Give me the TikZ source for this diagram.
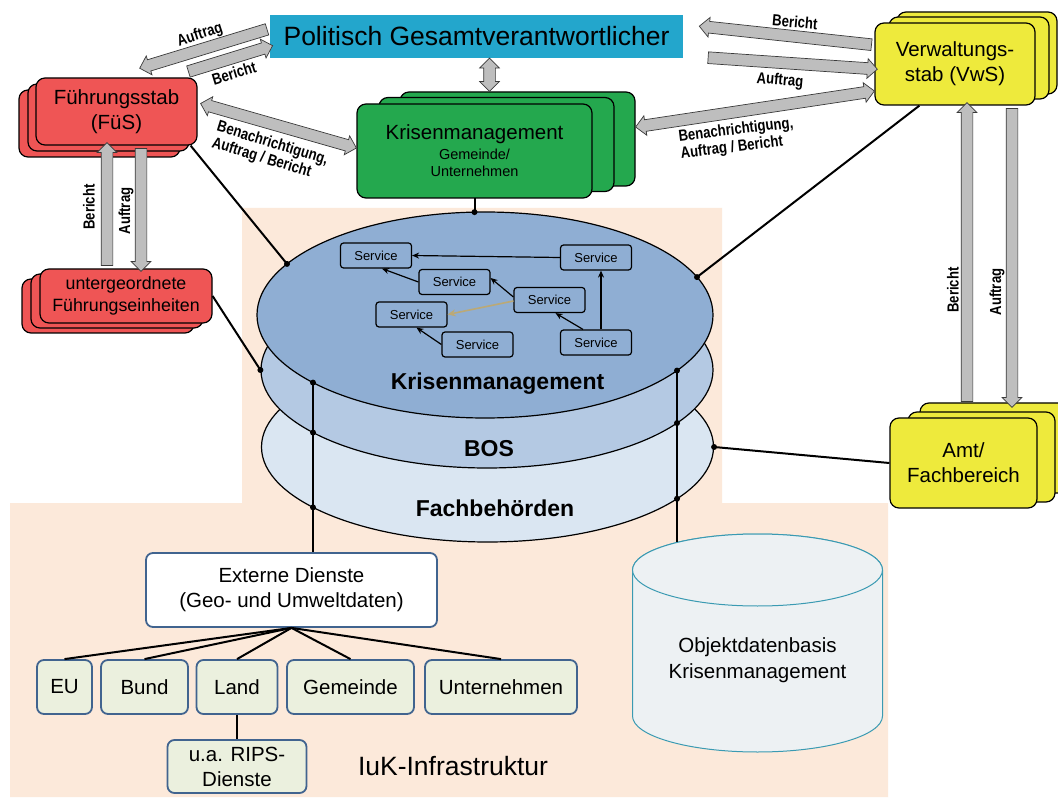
\documentclass[tikz,border=0pt]{standalone}
\usepackage{fontspec}
\setmainfont{Liberation Sans}
\newfontfamily\narrowfont[FakeStretch=0.82]{Liberation Sans}
\usetikzlibrary{shapes.arrows,shapes.geometric,arrows.meta,calc}

\definecolor{peach}{HTML}{FCE9DA}
\definecolor{polcyan}{HTML}{23A6CC}
\definecolor{fusred}{HTML}{EF5555}
\definecolor{kmgreen}{HTML}{24A84E}
\definecolor{vwsyellow}{HTML}{EEEA3C}
\definecolor{kmcol}{HTML}{8FAED3}
\definecolor{boscol}{HTML}{B4C9E3}
\definecolor{fachcol}{HTML}{DAE6F2}
\definecolor{arrowgray}{HTML}{BEBEBE}
\definecolor{arrowline}{HTML}{3A3A3A}
\definecolor{tanline}{HTML}{BBA976}
\definecolor{extline}{HTML}{41648F}
\definecolor{extfill}{HTML}{EBF0DE}
\definecolor{cylfill}{HTML}{EDF1F3}
\definecolor{cylline}{HTML}{3A9AB2}

\newcommand\fs[2]{\fontsize{#1}{#2}\selectfont}

% vertical distance from an ellipse centre to its border at horizontal offset #1
\pgfmathdeclarefunction{ellofs}{3}{%
  \begingroup
    \pgfmathparse{#3*sqrt(1-(#1/#2)*(#1/#2))}%
    \pgfmathsmuggle\pgfmathresult
  \endgroup}

% grey block arrows between two named points
\newcommand\blockarrow[3]{%
  \path let \p1=(#2), \p2=(#3),
    \n1={atan2(\y2-\y1,\x2-\x1)}, \n2={veclen(\x2-\x1,\y2-\y1)} in
    node[#1, minimum height=\n2, rotate=\n1] at ($(\p1)!0.5!(\p2)$) {};}

\tikzset{
  stackbox/.style={draw=black, line width=1.2pt, rounded corners=9pt, align=center, inner sep=2pt},
  fusbox/.style={stackbox, fill=fusred, minimum width=161pt, minimum height=67pt},
  ufebox/.style={stackbox, fill=fusred, minimum width=172pt, minimum height=54pt},
  kmbox/.style={stackbox, fill=kmgreen, minimum width=235pt, minimum height=94pt},
  vwsbox/.style={stackbox, fill=vwsyellow, minimum width=160pt, minimum height=82pt},
  amtbox/.style={stackbox, fill=vwsyellow, minimum width=147pt, minimum height=90pt},
  onearrow/.style={single arrow, draw=arrowline, line width=0.7pt, fill=arrowgray,
    inner sep=0pt, inner ysep=5.5pt, single arrow head extend=4pt, minimum width=0pt},
  twoarrow/.style={double arrow, draw=arrowline, line width=0.7pt, fill=arrowgray,
    inner sep=0pt, inner ysep=5.5pt, double arrow head extend=4pt, minimum width=0pt},
  arrlabel/.style={font=\narrowfont\bfseries\fs{16}{17}, align=left, inner sep=0pt},
  layer/.style={ellipse, draw=black, line width=1.2pt, inner sep=0pt},
  layerlabel/.style={font=\bfseries\fs{23}{27}, inner sep=0pt},
  service/.style={draw=black, line width=1.2pt, rounded corners=3pt, fill=kmcol,
    minimum width=71pt, minimum height=25pt, inner sep=0pt, font=\fs{13}{15}},
  svcarrow/.style={line width=1.2pt, -{Stealth[length=7pt,width=6pt]}},
  conn/.style={line width=2pt, draw=black},
  extbox/.style={draw=extline, line width=1.8pt, rounded corners=7pt, fill=extfill,
    align=center, inner sep=0pt, minimum height=54pt, font=\fs{20.5}{25}},
  cyl/.style={draw=cylline, line width=1pt, fill=cylfill},
}

\begin{document}
\begin{tikzpicture}[x=1pt,y=-1pt]
\fill[white] (0,0) rectangle (1058,799);
\useasboundingbox (0,0) rectangle (1058,799);

% infrastructure area
\fill[peach] (242,208) -- (722,208) -- (722,503) -- (888,503) -- (888,797)
  -- (10,797) -- (10,503) -- (242,503) -- cycle;

% stacked layers
\node[layer, fill=fachcol, minimum width=452pt, minimum height=190pt] (fach) at (487.5,447) {};
\node[layer, fill=boscol, minimum width=452pt, minimum height=196pt] (bos) at (487,370) {};
\node[layer, fill=kmcol, minimum width=456pt, minimum height=206pt] (kmell) at (485,315) {};
\node[layerlabel] (lkm) at (497.5,384) {Krisenmanagement};
\node[layerlabel] (lbos) at (489,449) {BOS};
\node[layerlabel] (lfach) at (495,508) {Fachbehörden};

% services
\node[service] (s1) at (376,255.5) {Service};
\node[service] (s2) at (454.5,282) {Service};
\node[service] (s3) at (411.5,314.5) {Service};
\node[service] (s4) at (477.5,344.5) {Service};
\node[service] (s5) at (596,257.5) {Service};
\node[service] (s6) at (549.5,300) {Service};
\node[service] (s7) at (596,342.5) {Service};
\draw[svcarrow] (s5.west) -- (s1.east);
\draw[svcarrow] (s2.west) -- ($(s1.south)+(6,0)$);
\draw[svcarrow] ($(s6.west)+(0,-3)$) -- ($(s2.east)+(0,-4)$);
\draw[line width=1.6pt, draw=tanline, -{Stealth[length=8pt,width=7pt]}] ($(s6.west)+(0,1)$) -- (s3.east);
\draw[svcarrow] (s4.west) -- ($(s3.south)+(5,0)$);
\draw[svcarrow] ($(s7.north)+(-13,0)$) -- ($(s6.south)+(6,0)$);
\draw[svcarrow] ($(s7.north)+(5,0)$) -- ($(s5.south)+(5,0)$);

% object database
\filldraw[cyl] (632.5,570) -- (632.5,716) arc[start angle=180, end angle=360, x radius=125pt, y radius=36pt]
  -- (882.5,570) arc[start angle=0, end angle=180, x radius=125pt, y radius=36pt] -- cycle;
\draw[cyl] (757.5,570) ellipse[x radius=125pt, y radius=36pt];
\node[align=center, font=\fs{20.5}{26}] (db) at (757.5,660) {Objektdatenbasis\\Krisenmanagement};
\coordinate (dbtop) at (677,{570-ellofs(677-757.5,125,36)});

% external services
\node[extbox, fill=white, minimum width=291pt, minimum height=74pt] (exd) at (291.5,590)
  {Externe Dienste\\(Geo- und Umweltdaten)};
\node[extbox, minimum width=55pt] (eu) at (64.5,687) {EU};
\node[extbox, minimum width=87pt] (bund) at (144.5,687) {Bund};
\node[extbox, minimum width=81pt] (land) at (237,687) {Land};
\node[extbox, minimum width=127pt] (gem) at (350.5,687) {Gemeinde};
\node[extbox, minimum width=152pt] (unt) at (501,687) {Unternehmen};
\node[extbox, minimum width=139pt, minimum height=53pt] (rips) at (237,766.5) {u.a. RIPS-\\Dienste};
\foreach \b in {eu,bund,land,gem,unt} \draw[conn] (exd.south) -- (\b.north);
\draw[conn] (land.south) -- (rips.north);
\node[font=\fs{26.5}{30}] (iuk) at (453,766) {IuK-Infrastruktur};

% points on the layer borders
\coordinate (kl1) at (313,{315+ellofs(313-485,228,103)});
\coordinate (bl1) at (313,{370+ellofs(313-487,226,98)});
\coordinate (fl1) at (313,{447+ellofs(313-487.5,226,95)});
\coordinate (kr1) at (677,{315+ellofs(677-485,228,103)});
\coordinate (br1) at (677,{370+ellofs(677-487,226,98)});
\coordinate (fr1) at (677,{447+ellofs(677-487.5,226,95)});
\coordinate (dfus) at (287,{315-ellofs(287-485,228,103)});
\coordinate (dvws) at (697,{315-ellofs(697-485,228,103)});
\coordinate (dkm) at (474.5,{315-ellofs(474.5-485,228,103)});

\draw[conn] (kl1) -- ($(exd.north)+(21.5,0)$);
\draw[conn] (kr1) -- (dbtop);

% top level
\node[fill=polcyan, minimum width=413pt, minimum height=43pt, inner sep=0pt, font=\fs{26.5}{30}]
  (pol) at (476.5,36.5) {Politisch Gesamtverantwortlicher};

\node[fusbox] at (99.5,123.5) {};
\node[fusbox] at (108.5,117.5) {};
\node[fusbox, font=\fs{20.5}{25}] (fus) at (116.5,111.5) {Führungsstab\\(FüS)};

\node[ufebox] at (108,306) {};
\node[ufebox] at (117,301) {};
\node[ufebox, font=\fs{17.8}{22}] (ufe) at (126,296) {untergeordnete\\Führungseinheiten};

\node[kmbox] at (517.5,139) {};
\node[kmbox] at (496.5,144.5) {};
\node[kmbox, font=\fs{20.5}{22}] (km) at (474.5,151)
  {Krisenmanagement\\[-2pt]\fs{14.5}{17}Gemeinde/\\[-5pt]\fs{14.5}{17}Unternehmen};

\node[vwsbox] at (977,53) {};
\node[vwsbox] at (969,58) {};
\node[vwsbox, font=\fs{20.5}{25}] (vws) at (955,64) {Verwaltungs-\\stab (VwS)};

\node[amtbox] at (993.5,448) {};
\node[amtbox] at (981.5,457) {};
\node[amtbox, font=\fs{20.5}{25}] (amt) at (963.5,463) {Amt/\\Fachbereich};

% connections to the layers
\draw[conn] ($(fus.south east)+(-7,0)$) -- (dfus);
\draw[conn] (ufe.east) -- (bos.west);
\draw[conn] ($(km.south)+(0,-1)$) -- (dkm);
\draw[conn] ($(vws.south west)+(45,0)$) -- (dvws);
\draw[conn] (amt.west) -- (fach.east);
\foreach \p in {kl1,bl1,fl1,kr1,br1,fr1,dfus,dvws,dkm}
  \fill (\p) circle[radius=3pt];
\fill (bos.west) circle[radius=3pt];
\fill (fach.east) circle[radius=3pt];

% block arrow end points
\coordinate (a1s) at ($(pol.west)+(0,-8)$);
\coordinate (a1e) at ($(fus.north)+(26,-10)$);
\coordinate (a2s) at ($(fus.north east)+(-12,-5)$);
\coordinate (a2e) at ($(pol.west)+(0,10)$);
\coordinate (a3s) at ($(fus.east)+(3,-8)$);
\coordinate (a3e) at ($(km.west)+(0,-3)$);
\coordinate (a4s) at ($(pol.south)+(13,0)$);
\coordinate (a4e) at ($(km.north)+(15,-12)$);
\coordinate (a5s) at ($(vws.west)+(0,-19)$);
\coordinate (a5e) at ($(pol.east)+(19,-10)$);
\coordinate (a6s) at ($(pol.east)+(22,21)$);
\coordinate (a6e) at ($(vws.west)+(0,5)$);
\coordinate (a7s) at ($(km.east)+(43,-24)$);
\coordinate (a7e) at ($(vws.west)+(0,27)$);
\coordinate (a8s) at ($(ufe.north)+(-19,0)$);
\coordinate (a8e) at ($(fus.south)+(-9.5,0)$);
\coordinate (a9s) at ($(fus.south)+(24.5,0)$);
\coordinate (a9e) at ($(ufe.north)+(15,0)$);
\coordinate (a10s) at ($(amt.north)+(3.5,-13)$);
\coordinate (a10e) at ($(vws.south)+(12,0)$);
\coordinate (a11s) at ($(vws.south)+(57,0)$);
\coordinate (a11e) at ($(amt.north)+(48.5,-13)$);

\blockarrow{onearrow}{a1s}{a1e}
\blockarrow{onearrow}{a2s}{a2e}
\blockarrow{twoarrow}{a3s}{a3e}
\blockarrow{twoarrow}{a4s}{a4e}
\blockarrow{onearrow}{a5s}{a5e}
\blockarrow{onearrow}{a6s}{a6e}
\blockarrow{twoarrow}{a7s}{a7e}
\blockarrow{onearrow}{a8s}{a8e}
\blockarrow{onearrow}{a9s}{a9e}
\blockarrow{onearrow}{a10s}{a10e}
\blockarrow{onearrow}{a11s}{a11e}

% arrow labels
\node[arrlabel, rotate=18] (t1) at (200,35) {Auftrag};
\node[arrlabel, rotate=17] (t2) at (234,73) {Bericht};
\node[arrlabel, rotate=-17] (t3) at (270,152) {Benachrichtigung,\\Auftrag / Bericht};
\node[arrlabel, rotate=90] (t4) at (89,207) {Bericht};
\node[arrlabel, rotate=90] (t5) at (126,211) {Auftrag};
\node[arrlabel, rotate=-5] (t6) at (795,22) {Bericht};
\node[arrlabel, rotate=-5] (t7) at (780,81) {Auftrag};
\node[arrlabel, rotate=7] (t8) at (737,139) {Benachrichtigung,\\Auftrag / Bericht};
\node[arrlabel, rotate=90] (t9) at (953,290) {Bericht};
\node[arrlabel, rotate=90] (t10) at (997,292) {Auftrag};
\end{tikzpicture}
\end{document}
